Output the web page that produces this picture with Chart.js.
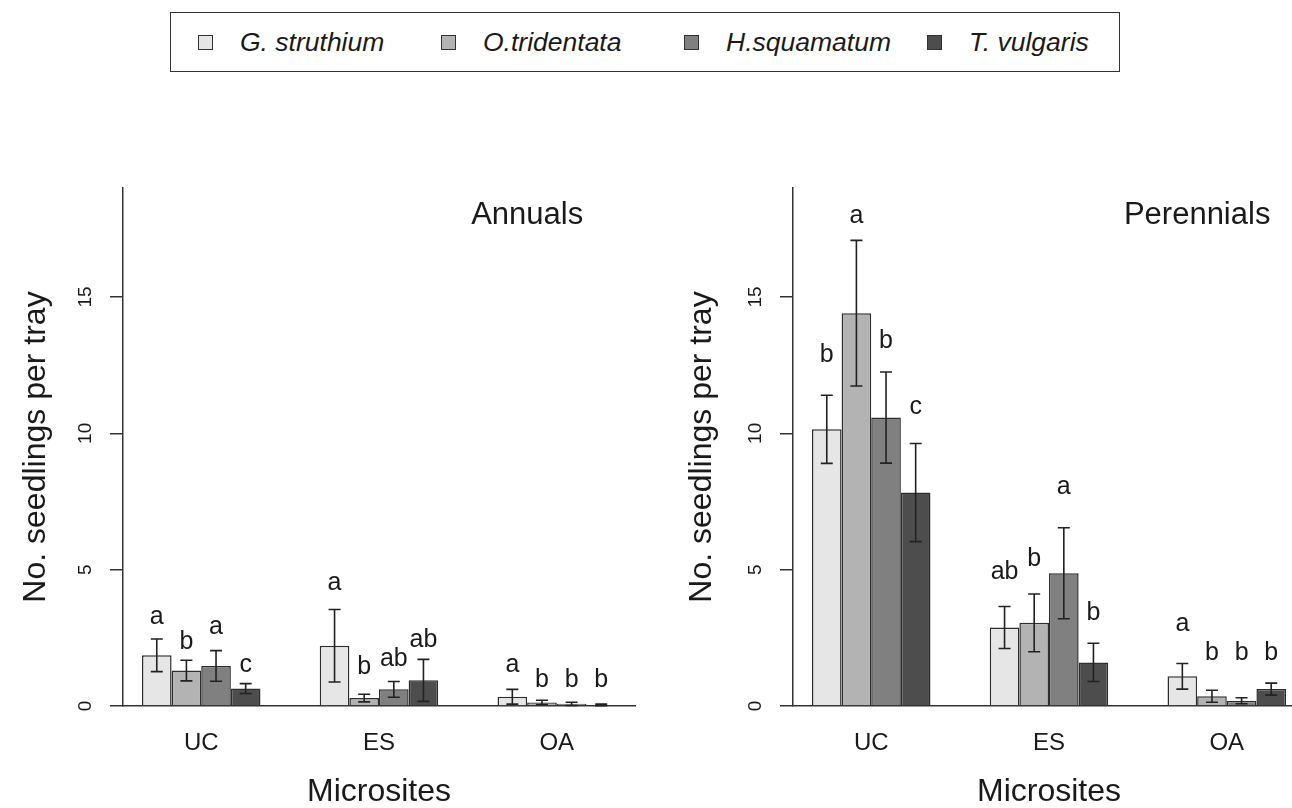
<!DOCTYPE html>
<html>
<head>
<meta charset="utf-8">
<title>Seedlings per tray by microsite</title>
<script src="https://cdn.jsdelivr.net/npm/chart.js@4.4.1/dist/chart.umd.min.js"></script>
<style>
    html, body {
        margin: 0;
        padding: 0;
        background: #ffffff;
        width: 1292px;
        height: 808px;
        overflow: hidden;
        position: relative;
        font-family: "Liberation Sans", Arial, sans-serif;
        color: #1a1a1a;
    }
    #legend {
        position: absolute;
        left: 170px;
        top: 12px;
        width: 950px;
        height: 60px;
        border: 1.5px solid #333;
        box-sizing: border-box;
    }
    #legend .item {
        position: absolute;
        top: 0;
        height: 100%;
        display: flex;
        align-items: center;
        font-style: italic;
        font-size: 26.5px;
        white-space: nowrap;
    }
    #legend .swatch {
        width: 15px;
        height: 15px;
        box-sizing: border-box;
        border: 1.5px solid #333;
        margin-right: 27px;
    }
    .panel {
        position: absolute;
        top: 0;
        height: 808px;
    }
</style>
</head>
<body>
<div id="legend"></div>
<div class="panel" style="left:0;width:646px"><canvas id="annualsChart" width="646" height="808"></canvas></div>
<div class="panel" style="left:646px;width:660px"><canvas id="perennialsChart" width="660" height="808"></canvas></div>

<script>
    var microsites = ['UC', 'ES', 'OA'];
    // bar-unit positions of each microsite group (4 bars wide, 2 units apart)
    var groupCentres = [4, 10, 16];
    var species = ['G. struthium', 'O.tridentata', 'H.squamatum', 'T. vulgaris'];
    var fills = ['#e6e6e6', '#b3b3b3', '#808080', '#4d4d4d'];
    var yTicks = [0, 5, 10, 15];

    // one row per species, one value per microsite (UC, ES, OA)
    var annualsMean = [
        [1.86, 2.21, 0.34],
        [1.30, 0.29, 0.13],
        [1.47, 0.61, 0.08],
        [0.64, 0.94, 0.04]
    ];
    var annualsSe = [
        [0.60, 1.33, 0.27],
        [0.38, 0.14, 0.08],
        [0.56, 0.29, 0.06],
        [0.18, 0.77, 0.03]
    ];
    var annualsLetters = [
        ['a', 'a', 'a'],
        ['b', 'b', 'b'],
        ['a', 'ab', 'b'],
        ['c', 'ab', 'b']
    ];
    var annualsLetterY = [
        [3.02, 4.24, 1.23],
        [2.10, 1.18, 0.68],
        [2.65, 1.45, 0.68],
        [1.24, 2.16, 0.68]
    ];

    var perennialsMean = [
        [10.15, 2.88, 1.09],
        [14.41, 3.05, 0.36],
        [10.58, 4.87, 0.19],
        [7.83, 1.60, 0.62]
    ];
    var perennialsSe = [
        [1.25, 0.77, 0.47],
        [2.67, 1.06, 0.22],
        [1.67, 1.67, 0.11],
        [1.80, 0.70, 0.22]
    ];
    var perennialsLetters = [
        ['b', 'ab', 'a'],
        ['a', 'b', 'b'],
        ['b', 'a', 'b'],
        ['c', 'b', 'b']
    ];
    var perennialsLetterY = [
        [12.63, 4.67, 2.75],
        [17.71, 5.13, 1.67],
        [13.12, 7.76, 1.67],
        [10.70, 3.16, 1.67]
    ];

    Chart.defaults.font.family = '"Liberation Sans", Arial, sans-serif';
    Chart.defaults.color = '#1a1a1a';

    function buildLegend() {
        var box = document.getElementById('legend');
        species.forEach(function (name, i) {
            var item = document.createElement('div');
            item.className = 'item';
            item.style.left = (27 + i * 243) + 'px';
            var swatch = document.createElement('span');
            swatch.className = 'swatch';
            swatch.style.background = fills[i];
            var label = document.createElement('span');
            label.textContent = name;
            item.appendChild(swatch);
            item.appendChild(label);
            box.appendChild(item);
        });
    }

    function drawPanel(canvasId, panelLabel, means, ses, letters, letterY, layout) {
        var canvas = document.getElementById(canvasId);

        var datasets = species.map(function (name, i) {
            return {
                label: name,
                data: groupCentres.map(function (x, j) {
                    return { x: x, y: means[i][j] };
                }),
                errorBars: ses[i],
                letters: letters[i],
                letterY: letterY[i],
                backgroundColor: fills[i],
                borderColor: '#2e2e2e',
                borderWidth: 1.5,
                categoryPercentage: 4 / 6,
                barPercentage: 1
            };
        });

        // error bars, letters, y tick labels and the panel name
        var decorations = {
            id: 'decorations',
            afterDatasetsDraw: function (chart) {
                var ctx = chart.ctx;
                var xs = chart.scales.x;
                var ys = chart.scales.y;
                ctx.save();

                ctx.strokeStyle = '#222222';
                ctx.lineWidth = 1.6;
                chart.data.datasets.forEach(function (ds, i) {
                    chart.getDatasetMeta(i).data.forEach(function (bar, j) {
                        var mean = ds.data[j].y;
                        var se = ds.errorBars[j];
                        var top = ys.getPixelForValue(mean + se);
                        var bottom = ys.getPixelForValue(mean - se);
                        ctx.beginPath();
                        ctx.moveTo(bar.x, top);
                        ctx.lineTo(bar.x, bottom);
                        ctx.moveTo(bar.x - 6, top);
                        ctx.lineTo(bar.x + 6, top);
                        ctx.moveTo(bar.x - 6, bottom);
                        ctx.lineTo(bar.x + 6, bottom);
                        ctx.stroke();
                    });
                });

                ctx.fillStyle = '#1a1a1a';
                ctx.font = '25px "Liberation Sans", Arial, sans-serif';
                ctx.textAlign = 'center';
                ctx.textBaseline = 'alphabetic';
                chart.data.datasets.forEach(function (ds, i) {
                    chart.getDatasetMeta(i).data.forEach(function (bar, j) {
                        ctx.fillText(ds.letters[j], bar.x, ys.getPixelForValue(ds.letterY[j]));
                    });
                });

                ctx.font = '19px "Liberation Sans", Arial, sans-serif';
                ctx.textBaseline = 'middle';
                ys.ticks.forEach(function (tick) {
                    ctx.save();
                    ctx.translate(xs.left - 37, ys.getPixelForValue(tick.value));
                    ctx.rotate(-Math.PI / 2);
                    ctx.fillText(String(tick.value), 0, 0);
                    ctx.restore();
                });

                ctx.font = '31px "Liberation Sans", Arial, sans-serif';
                ctx.fillText(panelLabel, xs.getPixelForValue(15), ys.getPixelForValue(18));

                ctx.restore();
            }
        };

        return new Chart(canvas, {
            type: 'bar',
            data: { datasets: datasets },
            plugins: [decorations],
            options: {
                responsive: false,
                animation: false,
                layout: {
                    padding: { top: 188, right: layout.right, bottom: 0, left: 0 }
                },
                plugins: {
                    legend: { display: false },
                    tooltip: { enabled: false }
                },
                scales: {
                    x: {
                        type: 'linear',
                        min: 1.36,
                        max: 18.64,
                        offset: false,
                        afterBuildTicks: function (scale) {
                            scale.ticks = groupCentres.map(function (v) {
                                return { value: v };
                            });
                        },
                        afterFit: function (scale) {
                            scale.height = 102;
                        },
                        ticks: {
                            autoSkip: false,
                            maxRotation: 0,
                            padding: 23,
                            font: { size: 24 },
                            callback: function (value) {
                                return microsites[groupCentres.indexOf(value)];
                            }
                        },
                        grid: { display: false, drawTicks: false, offset: false },
                        border: { display: true, color: '#333333', width: 1.5 },
                        title: {
                            display: true,
                            text: 'Microsites',
                            font: { size: 32, lineHeight: 1 },
                            padding: { top: 0, bottom: 0 }
                        }
                    },
                    y: {
                        min: 0,
                        max: 19,
                        afterBuildTicks: function (scale) {
                            scale.ticks = yTicks.map(function (v) {
                                return { value: v };
                            });
                        },
                        afterFit: function (scale) {
                            scale.width = layout.axis;
                        },
                        ticks: { display: false },
                        grid: {
                            display: true,
                            drawOnChartArea: false,
                            drawTicks: true,
                            tickLength: 13,
                            color: '#333333',
                            lineWidth: 1.5
                        },
                        border: { display: true, color: '#333333', width: 1.5 },
                        title: {
                            display: true,
                            text: 'No. seedlings per tray',
                            font: { size: 32 },
                            padding: { top: layout.titlePad, bottom: 0 }
                        }
                    }
                }
            }
        });
    }

    buildLegend();
    drawPanel('annualsChart', 'Annuals', annualsMean, annualsSe, annualsLetters, annualsLetterY,
        { axis: 123, right: 11, titlePad: 17 });
    drawPanel('perennialsChart', 'Perennials', perennialsMean, perennialsSe, perennialsLetters, perennialsLetterY,
        { axis: 147, right: 1, titlePad: 37 });
</script>
</body>
</html>
